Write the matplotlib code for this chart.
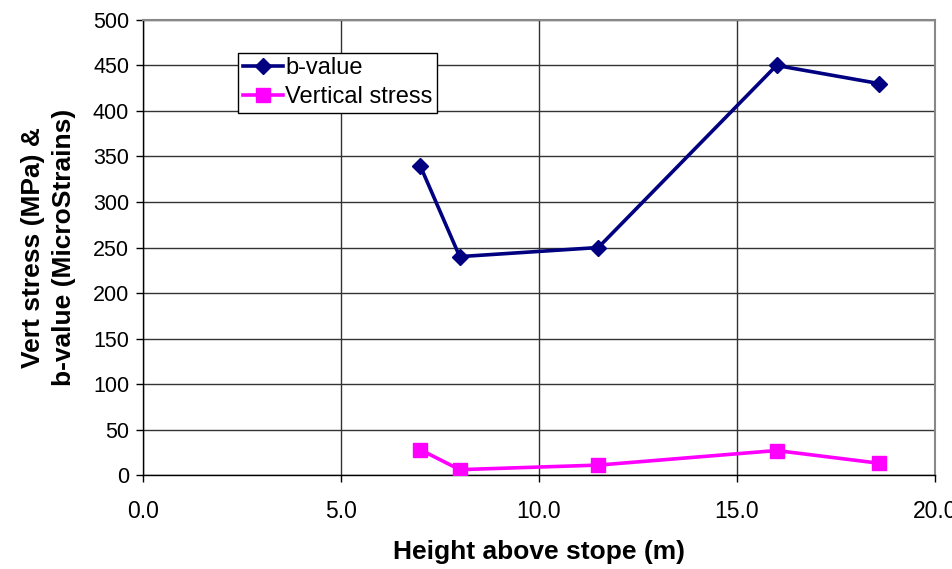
import matplotlib
matplotlib.use("Agg")
import matplotlib.pyplot as plt

height = [7.0, 8.0, 11.5, 16.0, 18.6]
b_value = [340, 240, 250, 450, 430]
vert_stress = [28, 6, 11, 27, 13]
x_ticks = [0, 5, 10, 15, 20]
y_ticks = list(range(0, 501, 50))

plt.rcParams['font.family'] = ['Liberation Sans', 'DejaVu Sans']

fig = plt.figure(figsize=(9.53, 5.69), dpi=100)
ax = fig.add_axes([0.150, 0.165, 0.831, 0.800])

ax.plot(height, b_value, color='#000080', lw=2.6, marker='D', markersize=8,
        label='b-value', zorder=3)
ax.plot(height, vert_stress, color='#FF00FF', lw=2.6, marker='s', markersize=10,
        label='Vertical stress', zorder=3)

ax.set_xlim(0, 20)
ax.set_ylim(0, 500)
ax.set_xticks(x_ticks)
ax.set_xticklabels([f"{v:.1f}" for v in x_ticks])
ax.set_yticks(y_ticks)
ax.tick_params(axis='both', direction='out', length=5, width=1)
ax.tick_params(axis='y', labelsize=15.5, pad=5)
ax.tick_params(axis='x', labelsize=16.5, pad=13)
ax.grid(True, color='#333333', lw=1)
ax.set_axisbelow(True)
for s in ['top', 'right']:
    ax.spines[s].set_color('#888888')
    ax.spines[s].set_linewidth(1.5)
for s in ['left', 'bottom']:
    ax.spines[s].set_color('black')
    ax.spines[s].set_linewidth(1)

ax.set_xlabel('Height above stope (m)', fontsize=19, fontweight='bold', labelpad=12)
ax.set_ylabel('Vert stress (MPa) &\nb-value (MicroStrains)', fontsize=19,
              fontweight='bold', labelpad=12, linespacing=1.35)

leg = ax.legend(loc='upper left', bbox_to_anchor=(0.12, 0.928), fontsize=17,
                frameon=True, fancybox=False, edgecolor='black', framealpha=1,
                borderpad=0.2, handlelength=1.7, handletextpad=0.1,
                labelspacing=0.3, borderaxespad=0)
leg.get_frame().set_linewidth(1)

fig.savefig('out.png', dpi=100)
